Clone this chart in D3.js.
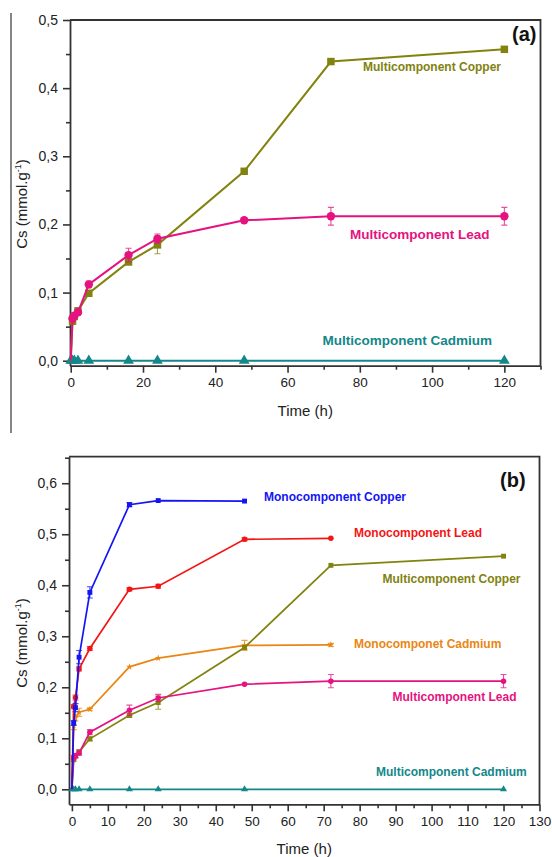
<!DOCTYPE html>
<html>
<head>
<meta charset="utf-8">
<script src="https://cdn.jsdelivr.net/npm/d3@7"></script>
<style>
  body { margin: 0; background: #fff; }
  svg text { font-family: "Liberation Sans", Arial, sans-serif; }
</style>
</head>
<body>
<div id="chart"></div>
<script>
// sampling times (h)
const times = [0, 0.5, 1, 2, 5, 16, 24, 48, 72, 120];
const timesMonoCu = [0, 0.5, 1, 2, 5, 16, 24, 48];
const timesMono = [0, 0.5, 1, 2, 5, 16, 24, 48, 72];
const timesMultiCd = [0, 0.5, 1, 2, 5, 16, 24, 48, 120];

// multicomponent series
const multiCopper = [0, 0.058, 0.065, 0.073, 0.099, 0.145, 0.170, 0.278, 0.439, 0.457];
const multiCopperErr = [0, 0.003, 0.003, 0.005, 0.004, 0.004, 0.013, 0.003, 0.002, 0.002];
const multiLead = [0, 0.062, 0.066, 0.071, 0.112, 0.155, 0.179, 0.206, 0.212, 0.212];
const multiLeadErr = [0, 0.004, 0.004, 0.004, 0.005, 0.010, 0.007, 0.002, 0.013, 0.013];
const multiCadmium = [0, 0, 0, 0, 0, 0, 0, 0, 0];

// monocomponent series
const monoCopper = [0, 0.130, 0.160, 0.259, 0.386, 0.558, 0.566, 0.565];
const monoCopperErr = [0, 0.005, 0.008, 0.013, 0.011, 0.004, 0.002, 0.002];
const monoLead = [0, 0.162, 0.180, 0.236, 0.276, 0.392, 0.398, 0.490, 0.492];
const monoLeadErr = [0, 0.004, 0.005, 0.004, 0.004, 0.003, 0.004, 0.003, 0.002];
const monoCadmium = [0, 0.125, 0.140, 0.151, 0.157, 0.240, 0.257, 0.282, 0.283];
const monoCadmiumErr = [0, 0.008, 0.006, 0.008, 0.003, 0.002, 0.002, 0.010, 0.003];

const ticksXa = [0, 20, 40, 60, 80, 100, 120];
const ticksXb = [0, 10, 20, 30, 40, 50, 60, 70, 80, 90, 100, 110, 120, 130];
const ticksYa = [0, 0.1, 0.2, 0.3, 0.4, 0.5];
const ticksYb = [0, 0.1, 0.2, 0.3, 0.4, 0.5, 0.6];

const COL = {
  olive: "#82820f", magenta: "#e5127f", teal: "#13878a",
  blue: "#1414f5", red: "#f51414", orange: "#ea8612"
};

const svg = d3.select("#chart").append("svg")
    .attr("width", 552)
    .attr("height", 857);

// stray frame line at the left of panel (a)
svg.append("line")
    .attr("x1", 11).attr("x2", 11).attr("y1", 13).attr("y2", 433)
    .attr("stroke", "#444").attr("stroke-width", 1.3);

const fmt = d => d3.format(".1f")(d).replace(".", ",");

function drawPanel(p) {
  const x = d3.scaleLinear().domain(p.xDomain).range([p.left, p.right]);
  const y = d3.scaleLinear().domain(p.yDomain).range([p.bottom, p.top]);
  const g = svg.append("g");

  // frame top/right
  g.append("path")
      .attr("d", `M${p.left},${p.top}H${p.right}V${p.bottom}`)
      .attr("fill", "none").attr("stroke", "#333").attr("stroke-width", 1.8);

  // minor ticks
  const xMinor = d3.range(p.xDomain[0] < 0 ? 0 : p.xDomain[0], p.xDomain[1] + 0.001, p.xMinor)
      .filter(v => !p.xTicks.includes(v));
  const yMinor = d3.range(0.05, p.yDomain[1], 0.1);
  g.append("g")
      .attr("transform", `translate(0,${p.bottom})`)
      .call(d3.axisBottom(x).tickValues(xMinor).tickSize(4).tickFormat(""))
      .call(a => a.select(".domain").remove())
      .call(a => a.selectAll("line").attr("stroke", "#333").attr("stroke-width", 1.6));
  g.append("g")
      .attr("transform", `translate(${p.left},0)`)
      .call(d3.axisLeft(y).tickValues(yMinor).tickSize(4).tickFormat(""))
      .call(a => a.select(".domain").remove())
      .call(a => a.selectAll("line").attr("stroke", "#333").attr("stroke-width", 1.6));

  // major axes
  g.append("g")
      .attr("transform", `translate(0,${p.bottom})`)
      .call(d3.axisBottom(x).tickValues(p.xTicks).tickSize(7).tickSizeOuter(0).tickPadding(5))
      .call(a => a.select(".domain").attr("stroke", "#333").attr("stroke-width", 1.8))
      .call(a => a.selectAll("line").attr("stroke", "#333").attr("stroke-width", 1.6))
      .call(a => a.selectAll("text").attr("font-size", 13.5).attr("fill", "#222")
          .attr("font-family", "Liberation Sans, Arial, sans-serif"));
  g.append("g")
      .attr("transform", `translate(${p.left},0)`)
      .call(d3.axisLeft(y).tickValues(p.yTicks).tickFormat(fmt).tickSize(7).tickSizeOuter(0).tickPadding(5))
      .call(a => a.select(".domain").attr("stroke", "#333").attr("stroke-width", 1.8))
      .call(a => a.selectAll("line").attr("stroke", "#333").attr("stroke-width", 1.6))
      .call(a => a.selectAll("text").attr("font-size", 14).attr("fill", "#222")
          .attr("font-family", "Liberation Sans, Arial, sans-serif"));

  // axis titles
  g.append("text")
      .attr("x", (p.left + p.right) / 2).attr("y", p.xTitleY)
      .attr("text-anchor", "middle").attr("font-size", 15).attr("fill", "#222")
      .text("Time (h)");
  const yt = g.append("text")
      .attr("transform", `translate(27,${p.yTitleY}) rotate(-90)`)
      .attr("text-anchor", "middle").attr("font-size", 15).attr("fill", "#222");
  yt.append("tspan").text("Cs (mmol.g");
  yt.append("tspan").attr("font-size", 9).attr("dy", -6).text("-1");
  yt.append("tspan").attr("dy", 6).text(")");

  // series
  p.series.forEach(s => {
    const pts = s.t.map((t, i) => ({t, v: s.v[i], e: s.e ? s.e[i] : 0}));
    g.append("path")
        .datum(pts)
        .attr("fill", "none").attr("stroke", s.color).attr("stroke-width", p.lineW)
        .attr("d", d3.line().x(d => x(d.t)).y(d => y(d.v)));

    const eb = g.append("g").attr("stroke", s.color).attr("stroke-width", 1.1).attr("opacity", 0.75);
    pts.filter(d => d.e > 0.0025).forEach(d => {
      const cx = x(d.t), y0 = y(d.v - d.e), y1 = y(d.v + d.e);
      eb.append("path").attr("d",
        `M${cx},${y0}V${y1}M${cx - p.cap},${y0}H${cx + p.cap}M${cx - p.cap},${y1}H${cx + p.cap}`);
    });

    const size = s.symbol === d3.symbolTriangle ? p.symSize * 0.9
      : s.symbol === d3.symbolStar ? p.symSize * 0.6 : p.symSize;
    g.selectAll(null)
        .data(pts.filter(d => d.t > 0 || s.symbol === d3.symbolTriangle))
        .join("path")
          .attr("transform", d => `translate(${x(d.t)},${y(d.v)})`)
          .attr("d", d3.symbol().type(s.symbol).size(size))
          .attr("fill", s.color);

    g.append("text")
        .attr("x", s.label[0]).attr("y", s.label[1])
        .attr("font-size", s.label[2]).attr("font-weight", "bold")
        .attr("fill", s.color).attr("dominant-baseline", "central")
        .text(s.name);
  });

  g.append("text")
      .attr("x", p.tag[0]).attr("y", p.tag[1])
      .attr("font-size", 20).attr("font-weight", "bold").attr("fill", "#111")
      .attr("dominant-baseline", "central")
      .text(p.tagText);
}

drawPanel({
  left: 70, right: 540.5, top: 20, bottom: 365.7,
  xDomain: [-0.2, 130], yDomain: [-0.0073, 0.5],
  xTicks: ticksXa, yTicks: ticksYa, xMinor: 10,
  xTitleY: 416, yTitleY: 204,
  lineW: 2, symSize: 56, cap: 3,
  tag: [512, 34], tagText: "(a)",
  series: [
    {name: "Multicomponent Cadmium", t: timesMultiCd, v: multiCadmium, color: COL.teal,
     symbol: d3.symbolTriangle, label: [322.5, 340, 13.5]},
    {name: "Multicomponent Copper", t: times, v: multiCopper, e: multiCopperErr, color: COL.olive,
     symbol: d3.symbolSquare, label: [363, 67, 12]},
    {name: "Multicomponent Lead", t: times, v: multiLead, e: multiLeadErr, color: COL.magenta,
     symbol: d3.symbolCircle, label: [350, 234, 13.5]}
  ]
});

drawPanel({
  left: 69, right: 539.5, top: 456.7, bottom: 804.3,
  xDomain: [-0.8, 130], yDomain: [-0.0294, 0.652],
  xTicks: ticksXb, yTicks: ticksYb, xMinor: 5,
  xTitleY: 854, yTitleY: 643,
  lineW: 1.7, symSize: 24, cap: 3,
  tag: [500, 480], tagText: "(b)",
  series: [
    {name: "Multicomponent Cadmium", t: timesMultiCd, v: multiCadmium, color: COL.teal,
     symbol: d3.symbolTriangle, label: [376, 772, 12]},
    {name: "Monocomponet Cadmium", t: timesMono, v: monoCadmium, e: monoCadmiumErr, color: COL.orange,
     symbol: d3.symbolStar, label: [354, 644, 12]},
    {name: "Multicomponent Copper", t: times, v: multiCopper, e: multiCopperErr, color: COL.olive,
     symbol: d3.symbolSquare, label: [382.5, 578.5, 12]},
    {name: "Multicomponent Lead", t: times, v: multiLead, e: multiLeadErr, color: COL.magenta,
     symbol: d3.symbolCircle, label: [392.5, 697, 12]},
    {name: "Monocomponent Lead", t: timesMono, v: monoLead, e: monoLeadErr, color: COL.red,
     symbol: d3.symbolCircle, label: [354, 533, 12]},
    {name: "Monocomponent Copper", t: timesMonoCu, v: monoCopper, e: monoCopperErr, color: COL.blue,
     symbol: d3.symbolSquare, label: [264, 497, 12]}
  ]
});
</script>
</body>
</html>
